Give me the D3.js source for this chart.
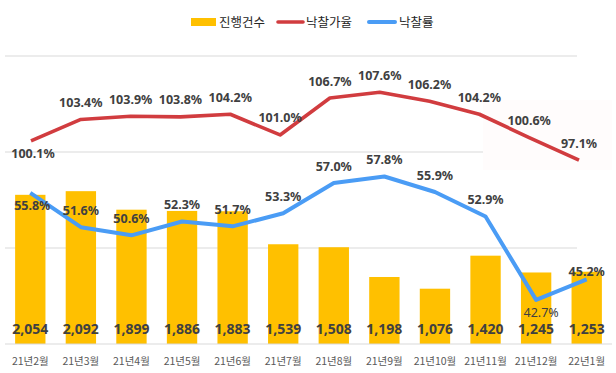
<!DOCTYPE html>
<meta charset="utf-8">
<html>
<head>
    <script src="https://d3js.org/d3.v7.min.js"></script>
    <style>
        body { margin: 0; background: #fff; }
        text { font-family: "Noto Sans", "Noto Sans CJK KR", sans-serif; }
        .kr { font-family: "Noto Sans CJK KR", "Noto Sans", sans-serif; }
    </style>
</head>
<body>
    <script>
        // 월별 데이터
        const months = ["21년2월", "21년3월", "21년4월", "21년5월", "21년6월", "21년7월",
            "21년8월", "21년9월", "21년10월", "21년11월", "21년12월", "22년1월"];
        const counts = [2054, 2092, 1899, 1886, 1883, 1539, 1508, 1198, 1076, 1420, 1245, 1253];   // 진행건수
        const priceRate = [100.1, 103.4, 103.9, 103.8, 104.2, 101.0, 106.7, 107.6, 106.2, 104.2, 100.6, 97.1]; // 낙찰가율
        const winRate = [55.8, 51.6, 50.6, 52.3, 51.7, 53.3, 57.0, 57.8, 55.9, 52.9, 42.7, 45.2];   // 낙찰률
        const countTicks = [500, 1500, 2500, 3500];

        const width = 616, height = 373;
        const svg = d3.select("body").append("svg")
            .attr("width", width)
            .attr("height", height);

        const x = d3.scaleBand().domain(months).range([5, 612])
            .paddingInner(0.4).paddingOuter(0.2);
        const xRed = d3.scalePoint().domain(months).range([31, 579]);
        const yBar = d3.scaleLinear().domain([500, 3500]).range([344, 56]);
        const yRed = d3.scaleLinear().domain([68.7, 113.2]).range([344, 56]);
        const yBlue = d3.scaleLinear().domain([37.3, 72.55]).range([344, 56]);

        // gridlines
        svg.append("g")
            .selectAll("line")
            .data(countTicks.slice(1))
            .join("line")
            .attr("x1", 5).attr("x2", 577)
            .attr("y1", d => yBar(d)).attr("y2", d => yBar(d))
            .attr("stroke", "#d9d9d9").attr("stroke-width", 1);

        // label background box near the last red labels
        svg.append("rect")
            .attr("x", 483).attr("y", 100).attr("width", 129).attr("height", 70)
            .attr("fill", "#fffcfc");

        // bars
        svg.append("g")
            .selectAll("rect")
            .data(counts)
            .join("rect")
            .attr("x", (d, i) => x(months[i]))
            .attr("y", d => yBar(d))
            .attr("width", x.bandwidth())
            .attr("height", d => yBar(500) - yBar(d))
            .attr("fill", "#ffc000");

        // baseline
        svg.append("line")
            .attr("x1", 5).attr("x2", 612)
            .attr("y1", yBar(500)).attr("y2", yBar(500))
            .attr("stroke", "#d9d9d9").attr("stroke-width", 1);

        // x axis labels
        svg.append("g")
            .selectAll("text")
            .data(months)
            .join("text")
            .attr("class", "kr")
            .attr("x", d => x(d) + x.bandwidth() / 2)
            .attr("y", 365)
            .attr("text-anchor", "middle")
            .style("font-size", "10.5px")
            .style("fill", "#595959")
            .text(d => d);

        // bar labels
        svg.append("g")
            .selectAll("text")
            .data(counts)
            .join("text")
            .attr("x", (d, i) => x(months[i]) + x.bandwidth() / 2)
            .attr("y", 334)
            .attr("text-anchor", "middle")
            .style("font-size", "14px")
            .style("font-weight", "bold")
            .style("fill", "#404040")
            .text(d => d3.format(",")(d));

        // lines
        const redLine = d3.line()
            .x((d, i) => xRed(months[i]))
            .y(d => yRed(d));
        const blueLine = d3.line()
            .x((d, i) => x(months[i]) + x.bandwidth() / 2)
            .y(d => yBlue(d));

        svg.append("path")
            .datum(priceRate)
            .attr("d", redLine)
            .attr("fill", "none")
            .attr("stroke", "#d13c3f")
            .attr("stroke-width", 3.6)
            .attr("stroke-linejoin", "round");

        svg.append("path")
            .datum(winRate)
            .attr("d", blueLine)
            .attr("fill", "none")
            .attr("stroke", "#4a9cf5")
            .attr("stroke-width", 4)
            .attr("stroke-linejoin", "round");

        // red labels
        svg.append("g")
            .selectAll("text")
            .data(priceRate)
            .join("text")
            .attr("x", (d, i) => xRed(months[i]) + (i === 0 ? 2 : 0))
            .attr("y", (d, i) => yRed(d) + (i === 0 ? 17 : -12.5))
            .attr("text-anchor", "middle")
            .style("font-size", "12.5px")
            .style("font-weight", "bold")
            .style("fill", "#404040")
            .text(d => d.toFixed(1) + "%");

        // blue labels
        svg.append("g")
            .selectAll("text")
            .data(winRate)
            .join("text")
            .attr("x", (d, i) => x(months[i]) + x.bandwidth() / 2 + (i === 0 ? 2 : i === 10 ? 5 : 0))
            .attr("y", (d, i) => yBlue(d) + (i === 0 || i === 10 ? 17 : i === 11 ? -3 : -12.5))
            .attr("text-anchor", "middle")
            .style("font-size", "12.5px")
            .style("font-weight", (d, i) => i === 10 ? "normal" : "bold")
            .style("fill", "#404040")
            .text(d => d.toFixed(1) + "%");

        // legend
        const legend = svg.append("g").attr("transform", "translate(0, 22)");
        legend.append("rect")
            .attr("x", 191).attr("y", -4).attr("width", 25).attr("height", 8)
            .attr("fill", "#ffc000");
        legend.append("text").attr("class", "kr")
            .attr("x", 219).attr("y", 4.5)
            .style("font-size", "12.5px").style("fill", "#262626")
            .text("진행건수");
        legend.append("line")
            .attr("x1", 278).attr("x2", 303).attr("y1", 0).attr("y2", 0)
            .attr("stroke", "#d13c3f").attr("stroke-width", 3.6)
            .attr("stroke-linecap", "round");
        legend.append("text").attr("class", "kr")
            .attr("x", 306).attr("y", 4.5)
            .style("font-size", "12.5px").style("fill", "#262626")
            .text("낙찰가율");
        legend.append("line")
            .attr("x1", 369).attr("x2", 395).attr("y1", 0).attr("y2", 0)
            .attr("stroke", "#4a9cf5").attr("stroke-width", 4)
            .attr("stroke-linecap", "round");
        legend.append("text").attr("class", "kr")
            .attr("x", 399).attr("y", 4.5)
            .style("font-size", "12.5px").style("fill", "#262626")
            .text("낙찰률");
    </script>
</body>
</html>
